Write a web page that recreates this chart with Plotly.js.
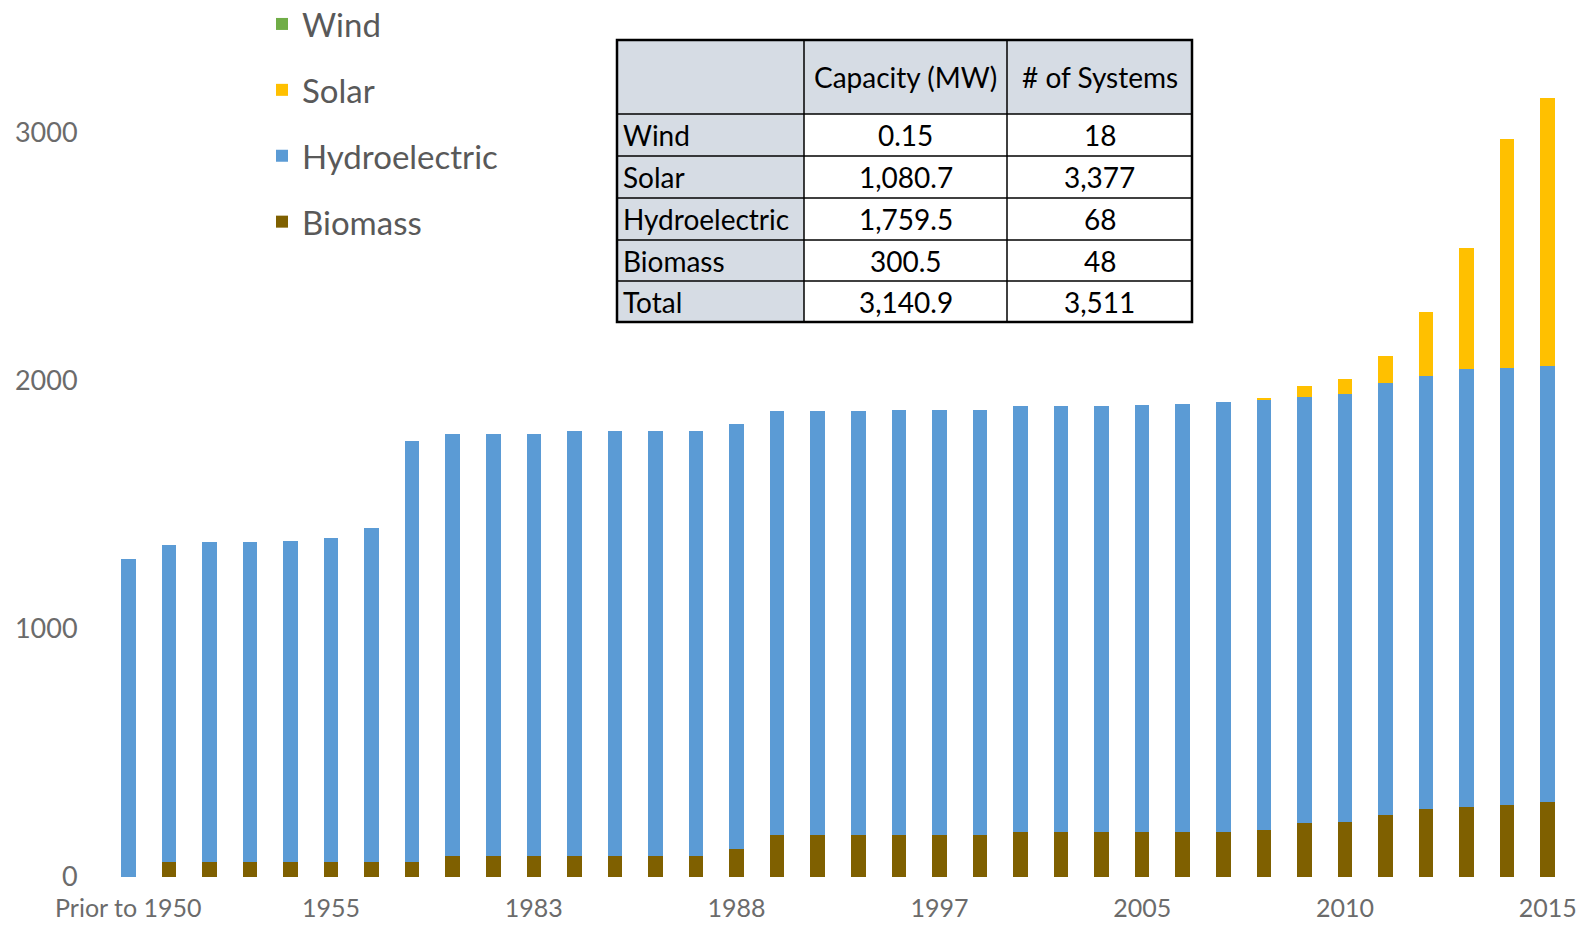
<!DOCTYPE html>
<html>
<head>
<meta charset="utf-8">
<script src="https://cdn.plot.ly/plotly-3.0.1.min.js"></script>
<style>html,body{margin:0;padding:0;background:#fff;}#chart{width:1579px;height:927px;}</style>
</head>
<body>
<div id="chart"></div>
<script>
// ---- data ----
const categories = ["Prior to 1950","1950","1951","1952","1953","1955","1960","1972","1980","1982",
  "1983","1984","1985","1986","1987","1988","1989","1990","1992","1995",
  "1997","1998","2000","2002","2004","2005","2006","2007","2008","2009",
  "2010","2011","2012","2013","2014","2015"];
const tickLabels = ["Prior to 1950","1955","1983","1988","1997","2005","2010","2015"];

const biomass = [0,60,60,60,60,60,60,60,85,85,
  85,85,85,85,85,113,170,170,170,170,
  170,170,182,182,182,182,182,183,190,219,
  223,250,275,283,292,300.5];
const hydro = [1281,1277,1290,1290,1293,1305,1346,1700,1703,1703,
  1703,1715,1715,1715,1715,1715,1708,1711,1711,1713,
  1713,1713,1718,1716,1716,1723,1724,1731,1732,1715,
  1726,1743,1747,1767,1762,1759.5];
const solar = [0,0,0,0,0,0,0,0,0,0,
  0,0,0,0,0,0,0,0,0,0,
  0,0,0,0,0,0,0,0,8,44,
  61,109,257,488,923,1080.7];
const wind = [0,0,0,0,0,0,0,0,0,0,
  0,0,0,0,0,0,0,0,0,0,
  0,0,0,0,0,0.05,0.05,0.05,0.05,0.1,
  0.1,0.1,0.15,0.15,0.15,0.15];

const tableHeader = ["", "Capacity (MW)", "# of Systems"];
const tableRows = ["Wind", "Solar", "Hydroelectric", "Biomass", "Total"];
const tableCapacity = ["0.15", "1,080.7", "1,759.5", "300.5", "3,140.9"];
const tableSystems = ["18", "3,377", "68", "48", "3,511"];

// ---- layout geometry ----
const FONT = "Lato, 'Liberation Sans', sans-serif";
const L = 108, R = 11, T = 36, B = 50;
const W = 1579 - L - R, H = 927 - T - B;
const baseY = 927 - B;
const pxPerUnit = 0.2480;
const px = x => (x - L) / W;
const py = y => (baseY - y) / H;

const colors = {Wind:"#70ad47", Solar:"#ffc000", Hydroelectric:"#5b9bd5", Biomass:"#7f6000"};
const ranks = {Wind:1, Solar:2, Hydroelectric:3, Biomass:4};

function barTrace(name, vals){
  return {type:"bar", name:name, x:categories, y:vals, legendgroup:name, legendrank:ranks[name],
    marker:{color:colors[name], line:{width:0}}, hoverinfo:"x+y+name"};
}
const data = [
  barTrace("Biomass", biomass),
  barTrace("Hydroelectric", hydro),
  barTrace("Solar", solar),
  barTrace("Wind", wind)
];

// ---- table built from arrays ----
const tblX = [617, 804, 1007, 1192];
const tblY = [40, 114, 156, 198, 240, 281, 322];
const shapes = [];
const annotations = [];
const fillC = "#d6dce4";
shapes.push({type:"rect", xref:"paper", yref:"paper", x0:px(tblX[0]), x1:px(tblX[3]), y0:py(tblY[0]), y1:py(tblY[1]), fillcolor:fillC, line:{width:0}, layer:"above"});
shapes.push({type:"rect", xref:"paper", yref:"paper", x0:px(tblX[0]), x1:px(tblX[1]), y0:py(tblY[1]), y1:py(tblY[6]), fillcolor:fillC, line:{width:0}, layer:"above"});
shapes.push({type:"rect", xref:"paper", yref:"paper", x0:px(tblX[1]), x1:px(tblX[3]), y0:py(tblY[1]), y1:py(tblY[6]), fillcolor:"#ffffff", line:{width:0}, layer:"above"});
for (let i = 1; i < tblY.length - 1; i++) {
  shapes.push({type:"line", xref:"paper", yref:"paper", x0:px(tblX[0]), x1:px(tblX[3]), y0:py(tblY[i]), y1:py(tblY[i]), line:{color:"#000", width:1.5}, layer:"above"});
}
for (let j = 1; j < tblX.length - 1; j++) {
  shapes.push({type:"line", xref:"paper", yref:"paper", x0:px(tblX[j]), x1:px(tblX[j]), y0:py(tblY[0]), y1:py(tblY[6]), line:{color:"#000", width:1.5}, layer:"above"});
}
shapes.push({type:"rect", xref:"paper", yref:"paper", x0:px(tblX[0]), x1:px(tblX[3]), y0:py(tblY[0]), y1:py(tblY[6]), line:{color:"#000", width:2.5}, layer:"above"});

const tFont = {family:FONT, size:28, color:"#000"};
const colCenters = [null, (tblX[1]+tblX[2])/2, (tblX[2]+tblX[3])/2];
for (let j = 1; j < 3; j++) {
  annotations.push({xref:"paper", yref:"paper", x:px(colCenters[j]), y:py((tblY[0]+tblY[1])/2), text:tableHeader[j], showarrow:false, xanchor:"center", yanchor:"middle", font:tFont});
}
for (let i = 0; i < tableRows.length; i++) {
  const yc = py((tblY[i+1]+tblY[i+2])/2);
  annotations.push({xref:"paper", yref:"paper", x:px(tblX[0]+4), y:yc, text:tableRows[i], showarrow:false, xanchor:"left", yanchor:"middle", font:tFont});
  annotations.push({xref:"paper", yref:"paper", x:px(colCenters[1]), y:yc, text:tableCapacity[i], showarrow:false, xanchor:"center", yanchor:"middle", font:tFont});
  annotations.push({xref:"paper", yref:"paper", x:px(colCenters[2]), y:yc, text:tableSystems[i], showarrow:false, xanchor:"center", yanchor:"middle", font:tFont});
}

const layout = {
  width:1579, height:927,
  margin:{l:L, r:R, t:T, b:B, pad:0, autoexpand:false},
  paper_bgcolor:"#fff", plot_bgcolor:"#fff",
  barmode:"stack", bargap:0.64,
  font:{family:FONT, color:"#595959"},
  showlegend:true,
  legend:{x:px(262), xanchor:"left", y:py(-4), yanchor:"top",
    traceorder:"grouped", tracegroupgap:20,
    font:{family:FONT, size:33, color:"#595959"}, bgcolor:"rgba(0,0,0,0)"},
  xaxis:{type:"category", categoryorder:"array", categoryarray:categories,
    range:[-0.5, 35.5], tickmode:"array", tickvals:tickLabels, ticktext:tickLabels,
    showgrid:false, zeroline:false, showline:false,
    ticks:"outside", ticklen:9, tickcolor:"rgba(0,0,0,0)",
    tickfont:{family:FONT, size:25, color:"#6b6b6b"}, tickangle:0},
  yaxis:{range:[0, H/pxPerUnit], tickmode:"array", tickvals:[0,1000,2000,3000],
    showgrid:false, zeroline:false, showline:false,
    ticks:"outside", ticklen:24, tickcolor:"rgba(0,0,0,0)",
    tickfont:{family:FONT, size:27, color:"#6b6b6b"}},
  shapes:shapes, annotations:annotations
};

Plotly.newPlot("chart", data, layout, {displayModeBar:false, staticPlot:true});
</script>
</body>
</html>
